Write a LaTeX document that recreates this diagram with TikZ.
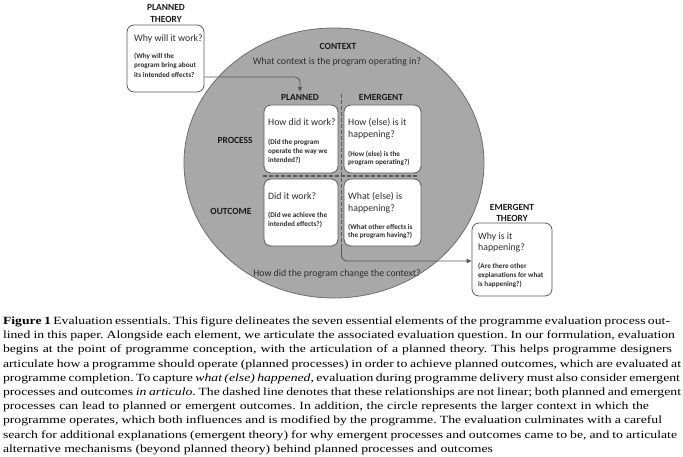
\documentclass[tikz,border=0pt]{standalone}
\usepackage{fontspec}
\usepackage{graphicx}
\usetikzlibrary{shapes.geometric,arrows.meta,calc}
\newfontfamily\carl{Carlito}
\newfontfamily\capfont{Liberation Serif}
\definecolor{ctxfill}{HTML}{A8A8A8}
\definecolor{ctxedge}{HTML}{6E6E6E}
\definecolor{boxedge}{HTML}{5A5A5A}
\definecolor{qtext}{HTML}{2E2E2E}
\definecolor{labtext}{HTML}{1A1A1A}
\frenchspacing
\newlength\capw
\newcommand\capsize{\fontsize{11}{13}\selectfont}
\newcommand\capline[4]{%
  \pgfmathsetmacro\capinner{#3/\capsx}%
  \node[anchor=base west, inner sep=0, outer sep=0] (#1) at (3,#2)
    {\scalebox{\capsx}[1]{\makebox[\capinner pt][s]{\capfont\capsize\frenchspacing #4}}};}
\begin{document}
\settowidth\capw{\capfont\capsize alternative mechanisms (beyond planned theory) behind planned processes and outcomes}%
\pgfmathsetmacro\tmpsx{490/\capw}%
\global\let\capsx\tmpsx
\begin{tikzpicture}[x=1pt,y=-1pt,
  qbox/.style={draw=boxedge, fill=white, rounded corners=7pt, line width=0.8pt, inner sep=0},
  lab/.style={font=\carl\bfseries\fontsize{9.4}{11}\selectfont, text=labtext, inner sep=0},
  q/.style={font=\carl\fontsize{9.8}{12}\selectfont, text=qtext, anchor=base west, inner sep=0},
  sm/.style={font=\carl\bfseries\fontsize{7.2}{9}\selectfont, text=qtext, anchor=base west, inner sep=0},
  ctxt/.style={font=\carl\fontsize{9.8}{12}\selectfont, text=qtext, anchor=base, inner sep=0},
  conn/.style={draw=boxedge, line width=0.9pt, rounded corners=5pt, -{Triangle[length=5pt,width=4.5pt]}},
  dashline/.style={draw=boxedge, line width=1.1pt, dash pattern=on 4pt off 2pt}
]
\useasboundingbox (0,0) rectangle (683,457);

% context ellipse
\node[ellipse, draw=ctxedge, fill=ctxfill, line width=0.8pt, minimum width=300pt, minimum height=270pt, inner sep=0] (ctx) at (334,163) {};
\node[lab] (ctxlab) at (338,46) {CONTEXT};
\node[ctxt] (ctxq) at (337,64.5) {What context is the program operating in?};
\node[ctxt] (ctxq2) at (337,276.5) {How did the program change the context?};

% planned theory
\node[lab] (ptl1) at (166,7) {PLANNED};
\node[lab] (ptl2) at (166,19) {THEORY};
\node[qbox, minimum width=77pt, minimum height=67pt] (pt) at (165.5,58.5) {};
\node[q] (ptq) at (134,41.5) {Why will it work?};
\node[sm] (pts1) at (134,59) {(Why will the};
\node[sm] (pts2) at (134,68) {program bring about};
\node[sm] (pts3) at (134,77.3) {its intended effects?};

% column / row labels
\node[lab] (plab) at (300,97) {PLANNED};
\node[lab] (elab) at (381,97) {EMERGENT};
\node[lab] (prlab) at (235,140) {PROCESS};
\node[lab] (oulab) at (231,211) {OUTCOME};

% dashed dividers
\coordinate (vtop) at (341.5,94);
\coordinate (vbot) at (341.5,246);
\coordinate (hl) at (263,176);
\coordinate (hr) at (418,176);
\draw[dashline] (vtop) -- (vbot);
\draw[dashline] (hl) -- (hr);

% grid boxes
\node[qbox, minimum width=74pt, minimum height=68pt] (pp) at (301,139) {};
\node[qbox, minimum width=77pt, minimum height=68pt] (ep) at (382.5,139) {};
\node[qbox, minimum width=74pt, minimum height=67pt] (po) at (301,212.5) {};
\node[qbox, minimum width=77pt, minimum height=67pt] (eo) at (382.5,212.5) {};

\node[q] (ppq) at (268,125.5) {How did it work?};
\node[sm] (pps1) at (268,144.5) {(Did the program};
\node[sm] (pps2) at (268,153.5) {operate the way we};
\node[sm] (pps3) at (268,162.5) {intended?)};

\node[q] (epq1) at (348,125.5) {How (else) is it};
\node[q] (epq2) at (348,137.5) {happening?};
\node[sm] (eps1) at (348,156.5) {(How (else) is the};
\node[sm] (eps2) at (348,165) {program operating?)};

\node[q] (poq) at (268,199.5) {Did it work?};
\node[sm] (pos1) at (268,217.5) {(Did we achieve the};
\node[sm] (pos2) at (268,226.5) {intended effects?)};

\node[q] (eoq1) at (348,199.5) {What (else) is};
\node[q] (eoq2) at (348,211.5) {happening?};
\node[sm] (eos1) at (348,229.5) {(What other effects is};
\node[sm] (eos2) at (348,238) {the program having?)};

% emergent theory
\node[lab] (etl1) at (512,207) {EMERGENT};
\node[lab] (etl2) at (512,218) {THEORY};
\node[qbox, minimum width=80pt, minimum height=73pt] (et) at (512,259.5) {};
\node[q] (etq1) at (478,240) {Why is it};
\node[q] (etq2) at (478,250.5) {happening?};
\node[sm] (ets1) at (478,268.5) {(Are there other};
\node[sm] (ets2) at (478,277.5) {explanations for what};
\node[sm] (ets3) at (478,286.5) {is happening?)};

% connectors
\draw[conn] ([yshift=-18.5pt]pt.east) -| ([yshift=2pt]plab.north);
\draw[conn] (vbot) |- ([yshift=-1.5pt]et.west);

% caption
\capline{c1}{324.5}{667}{{\bfseries Figure 1} Evaluation essentials. This figure delineates the seven essential elements of the programme evaluation process out-}
\capline{c2}{338.7}{672}{lined in this paper. Alongside each element, we articulate the associated evaluation question. In our formulation, evaluation}
\capline{c3}{352.9}{669}{begins at the point of programme conception, with the articulation of a planned theory. This helps programme designers}
\capline{c4}{367.1}{678}{articulate how a programme should operate (planned processes) in order to achieve planned outcomes, which are evaluated at}
\capline{c5}{381.3}{677}{programme completion. To capture \textit{what (else) happened}, evaluation during programme delivery must also consider emergent}
\capline{c6}{395.5}{678}{processes and outcomes \textit{in articulo}. The dashed line denotes that these relationships are not linear; both planned and emergent}
\capline{c7}{409.7}{646}{processes can lead to planned or emergent outcomes. In addition, the circle represents the larger context in which the}
\capline{c8}{423.9}{659}{programme operates, which both influences and is modified by the programme. The evaluation culminates with a careful}
\capline{c9}{438.1}{674}{search for additional explanations (emergent theory) for why emergent processes and outcomes came to be, and to articulate}
\capline{c10}{452.3}{490}{alternative mechanisms (beyond planned theory) behind planned processes and outcomes}
\end{tikzpicture}
\end{document}
